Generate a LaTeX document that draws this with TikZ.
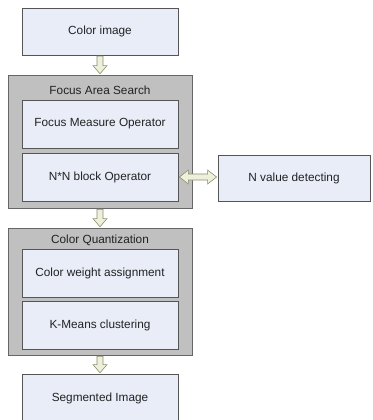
\documentclass[tikz,border=0pt]{standalone}
\usepackage{fontspec}
\setmainfont{Liberation Sans}
\usetikzlibrary{calc}
\definecolor{boxfill}{HTML}{E8EDF8}
\definecolor{boxline}{HTML}{555555}
\definecolor{grpfill}{HTML}{C0C0C0}
\definecolor{grpline}{HTML}{666666}
\definecolor{arrfill}{HTML}{EEF0DC}
\definecolor{arrline}{HTML}{8A8F6A}
\definecolor{txt}{HTML}{222222}
\begin{document}
\begin{tikzpicture}[x=1pt,y=-1pt,
  box/.style={draw=boxline, fill=boxfill, line width=0.8pt, minimum width=156pt, minimum height=48pt, font=\fontsize{11.8}{13}\selectfont, text=txt, inner sep=0pt},
  grp/.style={draw=grpline, fill=grpfill, line width=0.8pt, minimum width=184pt, inner sep=0pt},
  grptitle/.style={font=\fontsize{11.8}{13}\selectfont, text=txt, inner sep=0pt},
  barrow/.style={draw=arrline, fill=arrfill, line width=0.6pt, line join=miter}]
\useasboundingbox (0,0) rectangle (372,420);
\node[box, minimum height=47pt] (ci) at (100,31.5) {Color image};
\node[grp, minimum height=133pt] (g1) at (100,141.5) {};
\node[grptitle] (t1) at (100,90) {Focus Area Search};
\node[box] (fmo) at (100,124) {Focus Measure Operator};
\node[box] (nn) at (100,177) {N*N block Operator};
\node[box, minimum width=152pt, minimum height=46pt] (nv) at (294,178) {N value detecting};
\node[grp, minimum height=127pt] (g2) at (100,291.5) {};
\node[grptitle] (t2) at (100,240) {Color Quantization};
\node[box] (cwa) at (100,273) {Color weight assignment};
\node[box] (km) at (100,325) {K-Means clustering};
\node[box] (seg) at (100,398) {Segmented Image};
% down block arrows
\foreach \a/\b in {ci/g1, g1/g2, g2/seg}{
  \draw[barrow] let \p1=(\a.south), \p2=(\b.north) in
    (\x1-3pt,\y1-0.8pt) -- (\x1-3pt,\y2+9pt) -- (\x1-7pt,\y2+9pt) -- (\x1,\y2+0.8pt)
    -- (\x1+7pt,\y2+9pt) -- (\x1+3pt,\y2+9pt) -- (\x1+3pt,\y1-0.8pt) -- cycle;
}
% double block arrow
\draw[barrow] let \p1=(nn.east), \p2=(nv.west) in
  (\x1+1pt,\y1) -- (\x1+10pt,\y1+7pt) -- (\x1+10pt,\y1+3pt) -- (\x2-10pt,\y1+3pt)
  -- (\x2-10pt,\y1+7pt) -- (\x2-1pt,\y1) -- (\x2-10pt,\y1-7pt) -- (\x2-10pt,\y1-3pt)
  -- (\x1+10pt,\y1-3pt) -- (\x1+10pt,\y1-7pt) -- cycle;
\end{tikzpicture}
\end{document}
